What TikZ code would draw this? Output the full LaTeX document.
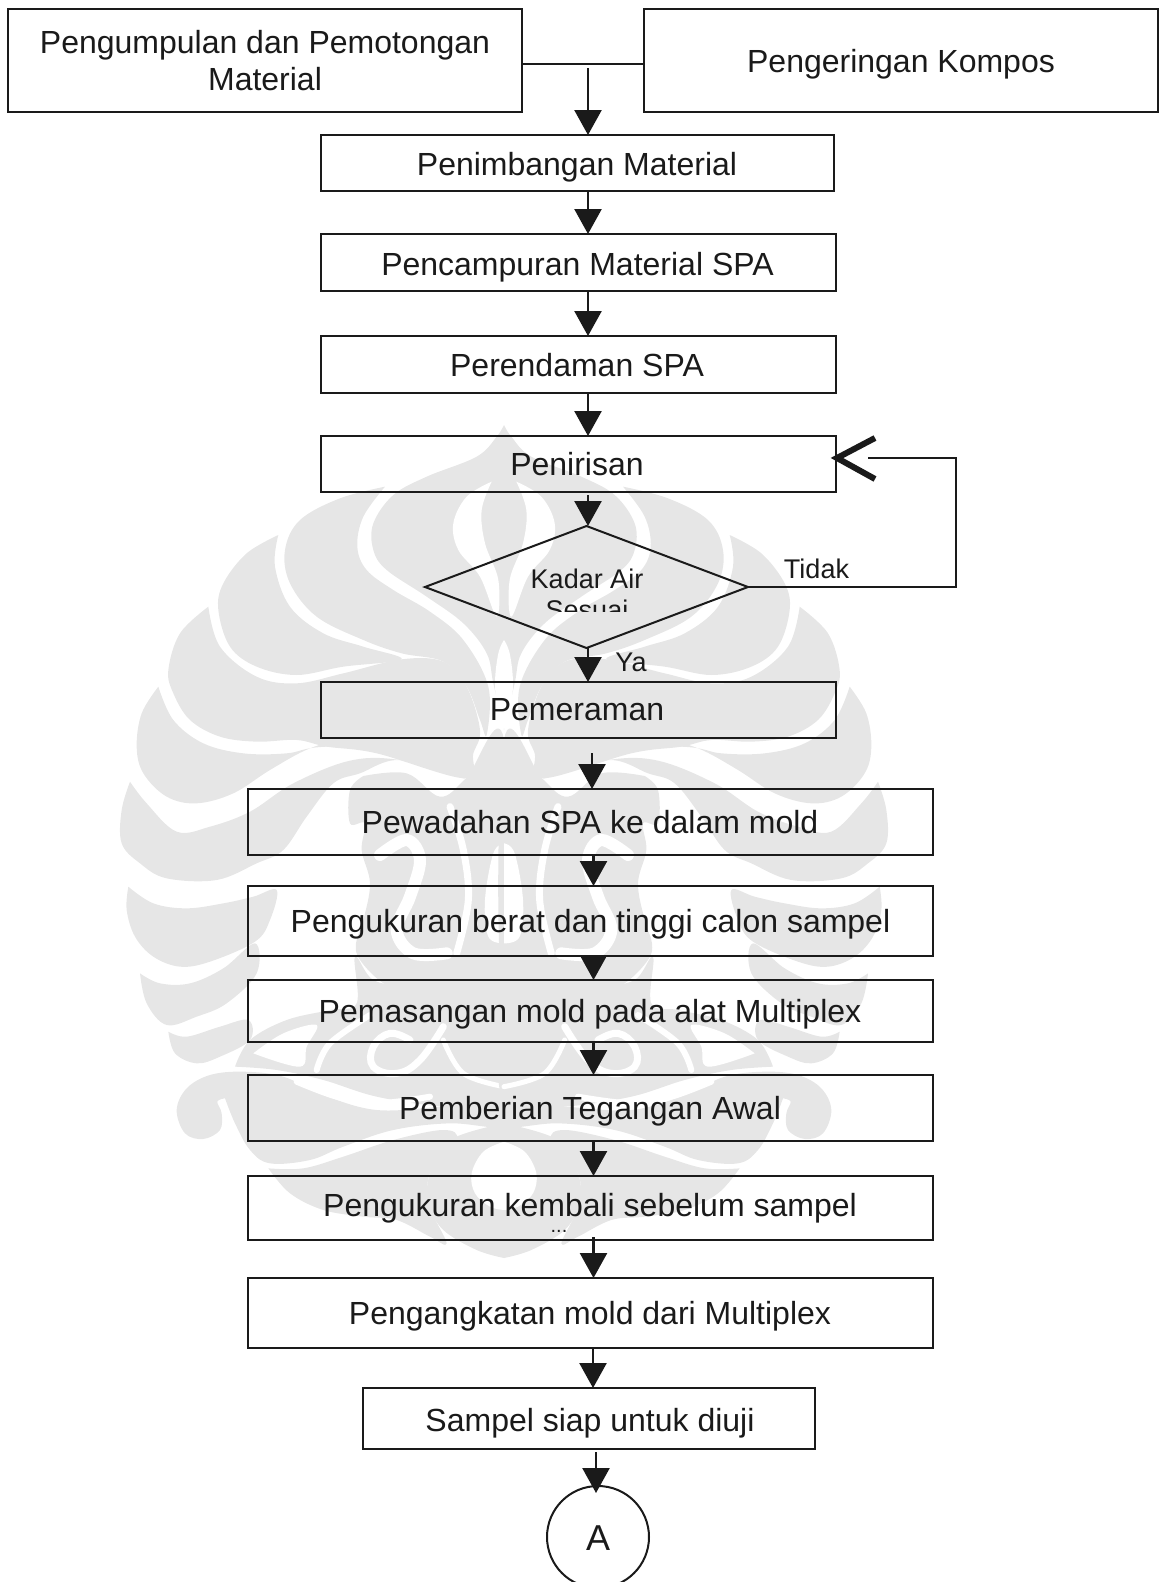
\documentclass[tikz,border=0pt]{standalone}
\usepackage{fontspec}
\setmainfont{Liberation Sans}
\usetikzlibrary{shapes.geometric,arrows.meta}
\definecolor{ink}{HTML}{1A1A1A}
\definecolor{wm}{HTML}{E6E6E6}
\tikzset{
  boxn/.style={draw=ink,line width=2pt,rectangle,inner sep=0pt,outer sep=0pt},
  txt/.style={text=ink,anchor=base,inner sep=0pt,font=\fontsize{32}{38}\selectfont},
  small/.style={text=ink,anchor=base,inner sep=0pt,font=\fontsize{27}{30}\selectfont},
  tiny/.style={text=ink,anchor=base,inner sep=0pt,font=\fontsize{20}{22}\selectfont},
  conn/.style={draw=ink,line width=2pt},
  arr/.style={draw=ink,fill=ink,line width=2.5pt,-{Triangle[length=25pt,width=27pt]}},
  lobe/.style={fill=wm,draw=none},
  gap/.style={draw=white,line cap=round,line join=round},
}
\newcommand{\bx}[5]{% name x1 y1 x2 y2
  \pgfmathsetmacro{\bw}{#4-#2}\pgfmathsetmacro{\bh}{#5-#3}
  \pgfmathsetmacro{\cxx}{(#2+#4)/2}\pgfmathsetmacro{\cyy}{(#3+#5)/2}
  \node[boxn,minimum width=\bw pt,minimum height=\bh pt] (#1) at (\cxx,\cyy) {};}
\newcommand{\lb}[1]{\fill[lobe] plot[smooth,tension=.6] coordinates {#1} -- cycle;}
\newcommand{\wA}{% coordinates of crop at (110,420)
  \lb{(1182,15)(1160,50)(1100,110)(950,170)(850,225)(790,310)(790,390)(830,450)(950,530)(1060,610)(1130,700)(1150,790)(1182,930)}
  \lb{(825,200)(690,235)(570,300)(525,390)(540,490)(620,590)(760,660)(875,700)(1000,725)(1070,800)(1110,900)(1130,945)(1135,800)(1060,660)(960,575)(850,510)(770,450)(742,380)(760,290)(825,200)}
  \lb{(505,345)(410,400)(340,490)(325,570)(360,680)(440,740)(560,765)(700,740)(875,718)(760,680)(640,640)(540,560)(495,440)(505,345)}
  \lb{(295,560)(210,640)(175,750)(190,820)(240,900)(330,950)(440,965)(560,960)(650,980)(800,1000)(1065,1075)(1090,1000)(1110,930)(1070,800)(1000,725)(875,718)(700,760)(560,790)(440,770)(330,680)(295,560)}
  \lb{(145,800)(95,880)(80,980)(100,1060)(170,1130)(260,1150)(370,1120)(480,1050)(600,985)(720,955)(850,960)(960,1020)(1065,1075)(1000,980)(650,980)(530,1000)(400,1000)(280,970)(190,900)(145,800)}
  \lb{(60,1085)(35,1170)(35,1270)(90,1330)(170,1375)(320,1380)(440,1330)(520,1290)(590,1190)(670,1090)(750,1060)(870,1020)(1068,1070)(870,1020)(720,1022)(550,1090)(420,1175)(300,1220)(200,1235)(110,1150)(60,1085)}
  \fill[white] plot[smooth,tension=.6] coordinates {(1145,185)(1070,230)(1030,310)(1045,390)(1110,470)(1160,590)(1165,480)(1125,370)(1115,270)(1145,185)} -- cycle;
  \fill[white] plot[smooth,tension=.6] coordinates {(1182,660)(1165,700)(1155,790)(1165,880)(1182,930)} -- cycle;
}
\newcommand{\wB}{% crop at (110,840)
  \lb{(55,140)(50,210)(75,290)(130,350)(210,380)(300,365)(435,305)(480,240)(500,150)(430,170)(340,190)(230,205)(130,190)(55,140)}
  \lb{(90,400)(110,490)(170,555)(260,530)(350,490)(440,400)(435,310)(340,385)(240,430)(150,430)(90,400)}
  \lb{(175,575)(195,640)(260,670)(330,650)(420,600)(415,540)(330,560)(230,590)(175,575)}
  \lb{(375,680)(420,600)(530,540)(660,510)(740,490)(735,350)(790,420)(900,440)(1000,430)(1182,400)(1182,800)(1000,800)(800,770)(640,720)(500,690)(375,680)}
  \lb{(345,775)(322,785)(335,820)(330,870)(280,897)(225,880)(200,810)(230,745)(300,705)(400,695)(520,710)(640,765)(800,810)(1000,800)(1182,790)(1182,860)(1020,850)(850,870)(700,920)(600,960)(480,970)(420,930)(375,850)(345,775)}
  \lb{(475,985)(540,1060)(640,1110)(760,1130)(860,1140)(960,1190)(1010,1210)(960,1100)(960,1000)(1040,900)(1000,870)(850,900)(700,950)(580,985)(475,985)}
  \lb{(1182,1254)(1100,1230)(1000,1170)(955,1090)(960,1000)(1020,900)(1182,850)}
  \fill[white] plot[smooth,tension=.6] coordinates {(1182,905)(1120,935)(1085,1000)(1095,1060)(1140,1100)(1182,1110)} -- cycle;
  \fill[white] plot[smooth,tension=.6] coordinates {(430,640)(520,580)(620,555)(590,620)(570,680)(430,640)} -- cycle;
  \draw[gap,line width=6pt] plot[smooth,tension=.6] coordinates {(620,690)(660,610)(780,525)};
  \draw[gap,line width=7pt] plot[smooth,tension=.7] coordinates {(900,600)(840,580)(790,620)(790,680)(860,700)(930,660)(1000,560)};
  \draw[gap,line width=5pt] plot[smooth,tension=.6] coordinates {(1182,740)(1060,700)(1000,600)};
  \draw[gap,line width=6pt] plot[smooth,tension=.6] coordinates {(560,725)(680,770)(800,790)(960,770)};
}
\newcommand{\wC}{% crop at (250,740)
  \lb{(340,108)(470,100)(570,170)(648,115)(762,0)(762,800)(600,780)(500,775)(400,730)(330,660)(318,610)(340,540)(360,430)(335,330)(345,250)(300,250)(300,150)(340,108)}
  \draw[gap,line width=12pt] plot[smooth,tension=.6] coordinates {(390,345)(470,300)(510,360)(480,470)(440,570)(490,640)(590,640)};
  \draw[gap,line width=7pt] plot[smooth,tension=.6] coordinates {(600,200)(640,330)(655,480)(620,640)};
  \fill[white] plot[smooth,tension=.6] coordinates {(762,310)(730,340)(705,480)(715,590)(762,610)} -- cycle;
}
\begin{document}
\begin{tikzpicture}[x=1pt,y=-1pt]
\useasboundingbox (0,0) rectangle (1159,1582);
% watermark
\foreach \s in {1,-1}{
  \begin{scope}[shift={(504,0)},xscale=\s,shift={(-504,0)}]
    \begin{scope}[shift={(110,420)},x=.33333pt,y=-.33333pt]\wA\end{scope}
    \begin{scope}[shift={(250,740)},x=.33333pt,y=-.33333pt]\wC\end{scope}
    \begin{scope}[shift={(110,840)},x=.33333pt,y=-.33333pt]\wB\end{scope}
  \end{scope}
}
% boxes
\bx{b1}{8}{9}{522}{112}
\bx{b2}{644}{9}{1158}{112}
\bx{b3}{321}{135}{834}{191}
\bx{b4}{321}{234}{836}{290.5}
\bx{b5}{321}{336}{836}{392.5}
\bx{b6}{320.5}{436}{836}{492}
\bx{b7}{320.5}{682}{836}{738}
\bx{b8}{248}{789}{932.5}{855}
\bx{b9}{248}{886}{932.5}{956}
\bx{b10}{248}{980}{932.5}{1042}
\bx{b11}{248}{1075}{932.5}{1141}
\bx{b12}{248}{1176}{932.5}{1240}
\bx{b13}{248}{1278}{932.5}{1348}
\bx{b14}{363}{1388}{815}{1449}
\node[draw=ink,line width=2pt,diamond,aspect=2.65,minimum width=323pt,minimum height=122pt,inner sep=0pt,outer sep=0pt] (dec) at (586.5,587) {};
\node[circle,draw=ink,line width=2pt,minimum size=102pt,inner sep=0pt,outer sep=0pt] (conA) at (598,1537) {};
% labels
\node[txt] (t1a) at (265,53.5) {Pengumpulan dan Pemotongan};
\node[txt] (t1b) at (265,90) {Material};
\node[txt] (t2) at (901,72) {Pengeringan Kompos};
\node[txt] (t3) at (577,175) {Penimbangan Material};
\node[txt] (t4) at (577.5,275.5) {Pencampuran Material SPA};
\node[txt] (t5) at (577,376) {Perendaman SPA};
\node[txt] (t6) at (577,475) {Penirisan};
\node[txt] (t7) at (577,720) {Pemeraman};
\node[txt] (t8) at (590,833) {Pewadahan SPA ke dalam mold};
\node[txt] (t9) at (590.5,932) {Pengukuran berat dan tinggi calon sampel};
\node[txt] (t10) at (590,1022) {Pemasangan mold pada alat Multiplex};
\node[txt] (t11) at (590,1119) {Pemberian Tegangan Awal};
\node[txt] (t12) at (590,1216) {Pengukuran kembali sebelum sampel};
\node[tiny] (t12b) at (559,1232) {...};
\node[txt] (t13) at (590,1324) {Pengangkatan mold dari Multiplex};
\node[txt] (t14) at (590,1431) {Sampel siap untuk diuji};
\node[text=ink,anchor=base,inner sep=0pt,font=\fontsize{36}{40}\selectfont] (tA) at (598,1550) {A};
\node[small] (tK) at (587,588) {Kadar Air};
\begin{scope}
  \clip (500,590) rectangle (680,611);
  \node[small] (tS) at (587,619) {Sesuai};
\end{scope}
\node[small] (tT) at (816.5,578) {Tidak};
\node[small] (tY) at (631,671) {Ya};
% connector guides
\coordinate (j) at (588,64);
\coordinate (js) at (588,68);
\coordinate (k1) at (592,753);
\coordinate (k2) at (593.5,0);
\coordinate (k3) at (593,0);
\coordinate (k4) at (596,1452);
\coordinate (l1) at (588,495);
\coordinate (tip) at (837,458);
\coordinate (arm1) at (875,438);
\coordinate (arm2) at (875,479);
\coordinate (lend) at (868,458);
\coordinate (lx) at (956,0);
\coordinate (k12) at (593.5,1237);
\coordinate (k13) at (596,1493);
% connectors
\draw[conn] (b1.east |- j) -- (b2.west |- j);
\draw[arr] (js) -- (b3.north -| js);
\draw[arr] (b3.south -| j) -- (b4.north -| j);
\draw[arr] (b4.south -| j) -- (b5.north -| j);
\draw[arr] (b5.south -| j) -- (b6.north -| j);
\draw[arr] (l1) -- (dec.north -| l1);
\draw[arr] (dec.south -| l1) -- (b7.north -| l1);
\draw[arr] (k1) -- (b8.north -| k1);
\draw[arr] (b8.south -| k2) -- (b9.north -| k2);
\draw[arr] (b9.south -| k2) -- (b10.north -| k2);
\draw[arr] (b10.south -| k2) -- (b11.north -| k2);
\draw[arr] (b11.south -| k2) -- (b12.north -| k2);
\draw[arr] (k12) -- (b13.north -| k12);
\draw[arr] (b13.south -| k3) -- (b14.north -| k3);
\draw[arr] (k4) -- (k13);
\draw[conn] (dec.east) -- (lx |- dec.east) -- (lx |- lend) -- (lend);
\draw[draw=ink,line width=6pt] (arm1) -- (tip) -- (arm2);
\end{tikzpicture}
\end{document}
